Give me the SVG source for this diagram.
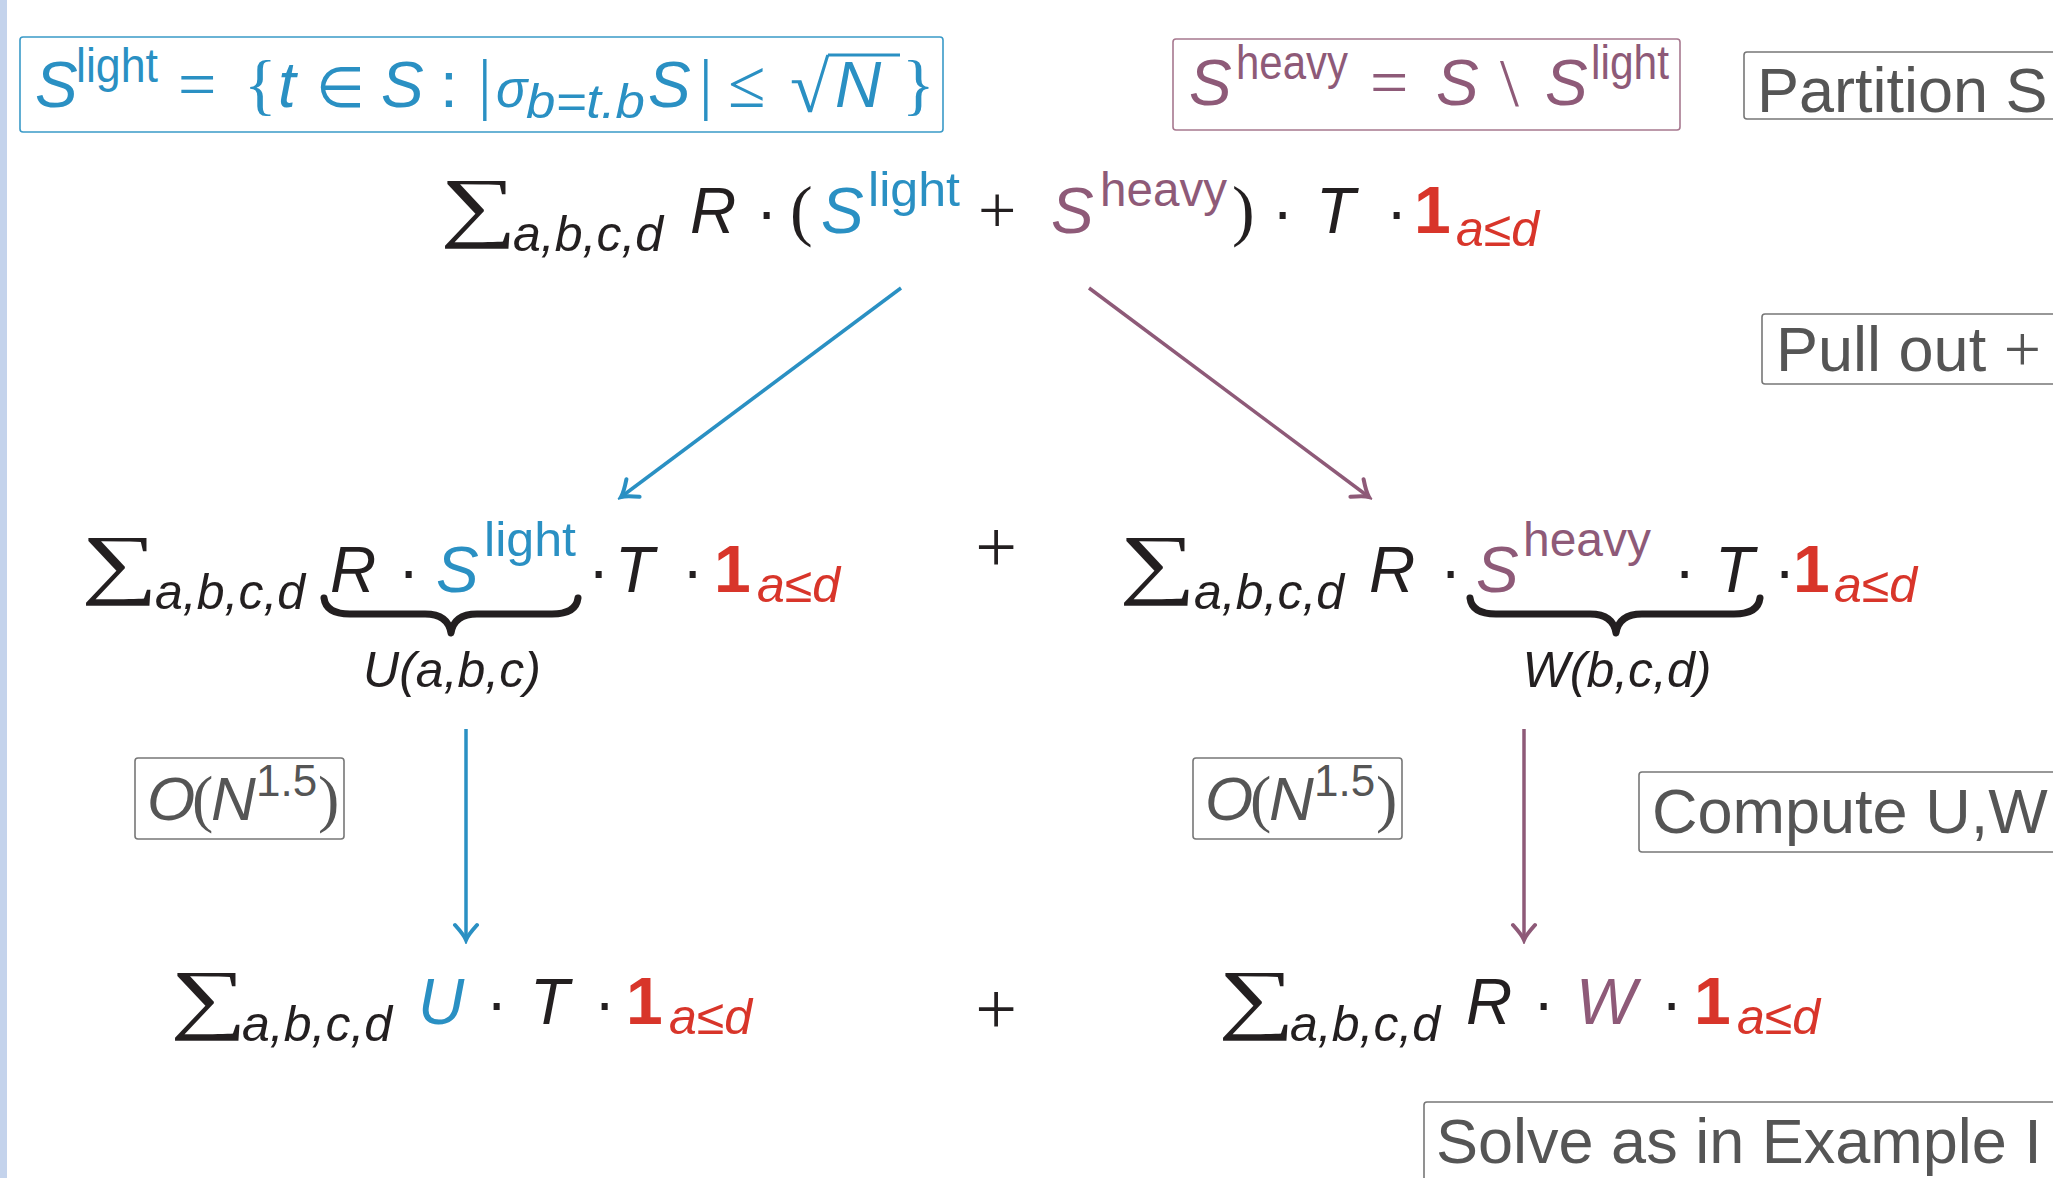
<svg xmlns="http://www.w3.org/2000/svg" width="2053" height="1178" viewBox="0 0 2053 1178">
<defs>
<style>
text { font-family: "Liberation Sans", "DejaVu Sans", sans-serif; }
.i { font-style: italic; }
.M { font-size: 64px; }
.s { font-size: 48px; }
.sb { font-size: 50px; }
.op { font-family: "Liberation Serif", "DejaVu Serif", serif; font-size: 68px; }
.sig { font-family: "Liberation Serif", "DejaVu Serif", serif; font-size: 78px; fill: #231f20; }
.bk { fill: #231f20; }
.bl { fill: #2a90c3; }
.pu { fill: #8e5a78; }
.rd { fill: #d8352a; }
.one { font-weight: bold; fill: #d8352a; font-size: 66px; }
.gy { fill: #555555; }
.lbl { font-size: 63px; fill: #555555; }
.box { fill: none; stroke-width: 1.6; }
.brace { fill: none; stroke: #231f20; stroke-width: 7; stroke-linecap: round; stroke-linejoin: round; }
.cb { stroke: #2a90c3; stroke-width: 3.5; fill: none; }
.cp { stroke: #8e5a78; stroke-width: 3.5; fill: none; }
</style>
<marker id="ab" viewBox="-18 -14 22 28" markerWidth="22" markerHeight="28" markerUnits="userSpaceOnUse" refX="0" refY="0" orient="auto">
<path d="M -15,-11 Q -5,-2 0,0 Q -5,2 -15,11" fill="none" stroke="#2a90c3" stroke-width="4" stroke-linecap="round"/>
</marker>
<marker id="ap" viewBox="-18 -14 22 28" markerWidth="22" markerHeight="28" markerUnits="userSpaceOnUse" refX="0" refY="0" orient="auto">
<path d="M -15,-11 Q -5,-2 0,0 Q -5,2 -15,11" fill="none" stroke="#8e5a78" stroke-width="4" stroke-linecap="round"/>
</marker>
</defs>
<rect x="0" y="0" width="2053" height="1178" fill="#ffffff"/>
<rect x="0" y="0" width="7" height="1178" fill="#c4d3ec"/>

<g id="slight-def">
<rect class="box" x="20" y="37" width="923" height="95" rx="3" stroke="#3a9ac8"/>
<text class="i M bl" x="35" y="107">S</text>
<text class="s bl" x="76" y="82" textLength="82" lengthAdjust="spacingAndGlyphs">light</text>
<text class="op bl" x="178" y="107">=</text>
<text class="op bl" x="244" y="107">{</text>
<text class="i M bl" x="278" y="107">t</text>
<text class="M bl" x="316" y="107" style="font-family:'DejaVu Sans',sans-serif;font-size:56px">∈</text>
<text class="i M bl" x="381" y="107">S</text>
<text class="M bl" x="440" y="107">:</text>
<text class="op bl" x="478" y="107">|</text>
<text class="i M bl" x="496" y="107" style="font-size:52px">σ</text>
<text class="i s bl" x="526" y="118" textLength="119" lengthAdjust="spacingAndGlyphs">b=t.b</text>
<text class="i M bl" x="648" y="107">S</text>
<text class="op bl" x="699" y="107">|</text>
<text class="op bl" x="728" y="107">≤</text>
<text class="op bl" x="790" y="112" style="font-size:72px">√</text>
<line x1="828" y1="55" x2="900" y2="55" stroke="#2a90c3" stroke-width="3"/>
<text class="i M bl" x="835" y="107">N</text>
<text class="op bl" x="902" y="107">}</text>
</g>

<g id="sheavy-def">
<rect class="box" x="1173" y="39" width="507" height="91" rx="3" stroke="#a7788f"/>
<text class="i M pu" x="1189" y="105">S</text>
<text class="s pu" x="1236" y="79" textLength="112" lengthAdjust="spacingAndGlyphs">heavy</text>
<text class="op pu" x="1370" y="105">=</text>
<text class="i M pu" x="1436" y="105">S</text>
<text class="op pu" x="1500" y="105">\</text>
<text class="i M pu" x="1545" y="105">S</text>
<text class="s pu" x="1591" y="79" textLength="78" lengthAdjust="spacingAndGlyphs">light</text>
</g>

<g id="partition-label">
<rect class="box" x="1744" y="52" width="330" height="67" rx="3" stroke="#777777"/>
<text class="lbl" x="1757" y="112">Partition S</text>
</g>

<g id="top-formula">
<text class="sig" transform="translate(440,232) scale(1.38,1)">∑</text>
<text class="i sb bk" x="513" y="251">a,b,c,d</text>
<text class="i M bk" x="690" y="233">R</text>
<text class="M bk" x="756" y="233">·</text>
<text class="op bk" x="790" y="233">(</text>
<text class="i M bl" x="821" y="233">S</text>
<text class="s bl" x="868" y="206" textLength="92" lengthAdjust="spacingAndGlyphs">light</text>
<text class="op bk" x="978" y="233">+</text>
<text class="i M pu" x="1051" y="233">S</text>
<text class="s pu" x="1100" y="206" textLength="127" lengthAdjust="spacingAndGlyphs">heavy</text>
<text class="op bk" x="1232" y="233">)</text>
<text class="M bk" x="1272" y="233">·</text>
<text class="i M bk" x="1316" y="233">T</text>
<text class="M bk" x="1386" y="233">·</text>
<text class="one" x="1414" y="233">1</text>
<text class="i sb rd" x="1456" y="246">a≤d</text>
</g>

<g id="pullout-label">
<rect class="box" x="1762" y="314" width="330" height="70" rx="3" stroke="#777777"/>
<text class="lbl" x="1776" y="371">Pull out <tspan style="font-family:'Liberation Serif',serif;font-size:66px">+</tspan></text>
</g>

<g id="mid-left">
<text class="sig" transform="translate(81,589) scale(1.38,1)">∑</text>
<text class="i sb bk" x="155" y="609">a,b,c,d</text>
<text class="i M bk" x="330" y="592">R</text>
<text class="M bk" x="398" y="592">·</text>
<text class="i M bl" x="436" y="592">S</text>
<text class="s bl" x="484" y="556" textLength="92" lengthAdjust="spacingAndGlyphs">light</text>
<text class="M bk" x="588" y="592">·</text>
<text class="i M bk" x="615" y="592">T</text>
<text class="M bk" x="682" y="592">·</text>
<text class="one" x="714" y="592">1</text>
<text class="i sb rd" x="757" y="602">a≤d</text>
<path class="brace" d="M 324,598 Q 326,614 350,614 L 425,614 Q 448,614 451,633 Q 454,614 477,614 L 552,614 Q 576,614 578,598"/>
<text class="i sb bk" x="452" y="687" text-anchor="middle">U(a,b,c)</text>
</g>

<g id="mid-plus">
<text class="op bk" x="996" y="572" text-anchor="middle" style="font-size:74px">+</text>
</g>

<g id="mid-right">
<text class="sig" transform="translate(1119,589) scale(1.38,1)">∑</text>
<text class="i sb bk" x="1194" y="609">a,b,c,d</text>
<text class="i M bk" x="1369" y="592">R</text>
<text class="M bk" x="1440" y="592">·</text>
<text class="i M pu" x="1476" y="592">S</text>
<text class="s pu" x="1523" y="556" textLength="128" lengthAdjust="spacingAndGlyphs">heavy</text>
<text class="M bk" x="1674" y="592">·</text>
<text class="i M bk" x="1715" y="592">T</text>
<text class="M bk" x="1774" y="592">·</text>
<text class="one" x="1793" y="592">1</text>
<text class="i sb rd" x="1834" y="602">a≤d</text>
<path class="brace" d="M 1470,598 Q 1472,614 1496,614 L 1590,614 Q 1613,614 1616,633 Q 1619,614 1642,614 L 1734,614 Q 1758,614 1760,598"/>
<text class="i sb bk" x="1617" y="687" text-anchor="middle">W(b,c,d)</text>
</g>

<g id="cost-left">
<rect class="box" x="135" y="758" width="209" height="81" rx="3" stroke="#777777"/>
<text class="i gy" x="147" y="820" style="font-size:62px">O</text>
<text class="gy" x="192" y="820" style="font-family:'Liberation Serif',serif;font-size:64px">(</text>
<text class="i gy" x="211" y="820" style="font-size:62px">N</text>
<text class="gy" x="256" y="796" style="font-size:44px">1.5</text>
<text class="gy" x="318" y="820" style="font-family:'Liberation Serif',serif;font-size:64px">)</text>
</g>

<g id="cost-right">
<rect class="box" x="1193" y="758" width="209" height="81" rx="3" stroke="#777777"/>
<text class="i gy" x="1205" y="820" style="font-size:62px">O</text>
<text class="gy" x="1250" y="820" style="font-family:'Liberation Serif',serif;font-size:64px">(</text>
<text class="i gy" x="1269" y="820" style="font-size:62px">N</text>
<text class="gy" x="1314" y="796" style="font-size:44px">1.5</text>
<text class="gy" x="1376" y="820" style="font-family:'Liberation Serif',serif;font-size:64px">)</text>
</g>

<g id="compute-label">
<rect class="box" x="1639" y="772" width="450" height="80" rx="3" stroke="#777777"/>
<text class="lbl" x="1652" y="833">Compute U,W</text>
</g>

<g id="bottom-left">
<text class="sig" transform="translate(170,1024) scale(1.38,1)">∑</text>
<text class="i sb bk" x="242" y="1041">a,b,c,d</text>
<text class="i M bl" x="418" y="1024">U</text>
<text class="M bk" x="486" y="1024">·</text>
<text class="i M bk" x="530" y="1024">T</text>
<text class="M bk" x="594" y="1024">·</text>
<text class="one" x="626" y="1024">1</text>
<text class="i sb rd" x="669" y="1034">a≤d</text>
</g>

<g id="bottom-plus">
<text class="op bk" x="996" y="1034" text-anchor="middle" style="font-size:74px">+</text>
</g>

<g id="bottom-right">
<text class="sig" transform="translate(1218,1024) scale(1.38,1)">∑</text>
<text class="i sb bk" x="1290" y="1041">a,b,c,d</text>
<text class="i M bk" x="1466" y="1024">R</text>
<text class="M bk" x="1533" y="1024">·</text>
<text class="i M pu" x="1576" y="1024">W</text>
<text class="M bk" x="1661" y="1024">·</text>
<text class="one" x="1694" y="1024">1</text>
<text class="i sb rd" x="1737" y="1034">a≤d</text>
</g>

<g id="solve-label">
<rect class="box" x="1424" y="1102" width="660" height="90" rx="3" stroke="#777777"/>
<text class="lbl" x="1436" y="1163">Solve as in Example I</text>
</g>

<g id="connectors">
<line class="cb" x1="901" y1="288" x2="621" y2="497" marker-end="url(#ab)"/>
<line class="cp" x1="1089" y1="288" x2="1369" y2="497" marker-end="url(#ap)"/>
<line class="cb" x1="466" y1="729" x2="466" y2="940" marker-end="url(#ab)"/>
<line class="cp" x1="1524" y1="729" x2="1524" y2="940" marker-end="url(#ap)"/>
</g>
</svg>
